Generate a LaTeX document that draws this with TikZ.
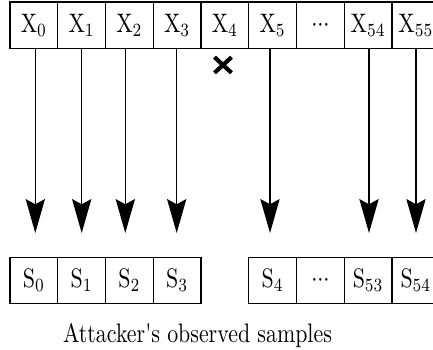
\documentclass[tikz,border=0pt]{standalone}
\usepackage{fontspec}
\usepackage{graphicx}
\usetikzlibrary{arrows.meta}
% text is set slightly taller than wide
\newcommand\tallbox[1]{\scalebox{1}[1.22]{#1}}
\newcommand\cdotsrow{${\cdot}{\cdot}{\cdot}$}
\begin{document}
\begin{tikzpicture}[x=0.4566pt, y=-0.4566pt,
  cell/.style={draw, line width=0.5pt, inner sep=0pt,
    minimum width=21.8pt, minimum height=21.2pt, font=\fontsize{10}{12}\selectfont},
  arr/.style={line width=0.6pt, -{Stealth[length=15.5pt, width=8.8pt, inset=2.4pt]}},
  cross/.style={line width=1.9pt}
]
\useasboundingbox (0,0) rectangle (433,349);
\clip (0,0) rectangle (433,349);

% input row X_0 ... X_55
\foreach \lbl [count=\i from 0] in {X$_0$, X$_1$, X$_2$, X$_3$, X$_4$, X$_5$, \cdotsrow, X$_{54}$, X$_{55}$}
  \node[cell] (X\i) at ({33.9+47.75*\i}, 25.2) {\tallbox{\lbl}};

% observed samples, first group
\foreach \lbl [count=\i from 0] in {S$_0$, S$_1$, S$_2$, S$_3$}
  \node[cell] (S\i) at ({33.9+47.75*\i}, 280.3) {\tallbox{\lbl}};
% observed samples, second group
\foreach \lbl [count=\i from 5] in {S$_4$, \cdotsrow, S$_{53}$, S$_{54}$}
  \node[cell] (S\i) at ({33.9+47.75*\i}, 280.3) {\tallbox{\lbl}};

% arrow ends
\coordinate (e0) at (35.3,233);
\coordinate (e1) at (81.7,233);
\coordinate (e2) at (125.3,233);
\coordinate (e3) at (176.7,233);
\coordinate (e5) at (270,233);
\coordinate (e7) at (369,233);
\coordinate (e8) at (416,233);

\foreach \k in {0,1,2,3,5,7,8}
  \draw[arr] (X\k.south -| e\k) -- (e\k);

% dropped sample
\coordinate (c4) at (223,65);
\draw[cross] ([shift={(-8.5,-7.8)}]c4) -- ([shift={(8.5,7.8)}]c4);
\draw[cross] ([shift={(-8.5,7.8)}]c4) -- ([shift={(8.5,-7.8)}]c4);

\node[anchor=base, inner sep=0pt, font=\fontsize{10}{12}\selectfont] (cap) at (197.5,342)
  {\tallbox{Attacker\textquotesingle s observed samples}};
\end{tikzpicture}
\end{document}
